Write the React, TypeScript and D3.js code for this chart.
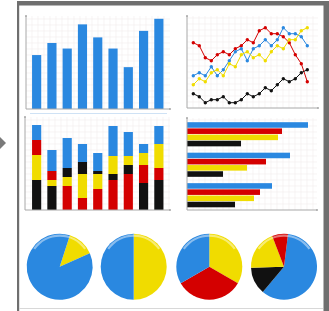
import React from 'react'
import * as d3 from 'd3'

const BLUE = '#2a88e0'
const RED = '#d40000'
const YELLOW = '#f0dc00'
const BLACK = '#111111'

// top-left bars
const barValues = [58, 71, 65, 91, 77, 65, 45, 84, 97]

// top-right lines, 20 points each
const redLine = [22, 21, 17, 16, 18, 19, 18, 20, 21, 23, 22, 26, 27, 25, 25, 24, 22, 18, 15, 9]
const blueLine = [11, 12, 11, 14, 11, 13, 16, 19, 20, 16, 20, 21, 23, 21, 23, 27, 25, 25, 24, 21]
const yellowLine = [8, 10, 9, 12, 13, 11, 15, 14, 18, 19, 17, 18, 16, 19, 21, 20, 23, 23, 26, 27]
const blackLine = [5, 4, 2, 3, 3, 4, 2, 2, 3, 5, 4, 5, 7, 6, 8, 10, 9, 10, 12, 13]

// bottom-left stacked bars
const stackBlack = [30, 24, 9, 12, 3, 6, 9, 27, 30]
const stackRed = [15, 9, 24, 12, 21, 30, 36, 18, 12]
const stackYellow = [25, 6, 9, 24, 15, 18, 9, 12, 24]
const stackBlue = [15, 21, 30, 18, 18, 30, 24, 9, 18]
const stackOrder = [
  ['black', 'yellow', 'red', 'blue'],
  ['black', 'yellow', 'red', 'blue'],
  ['red', 'yellow', 'black', 'blue'],
  ['red', 'yellow', 'black', 'blue'],
  ['red', 'yellow', 'black', 'blue'],
  ['red', 'black', 'yellow', 'blue'],
  ['red', 'black', 'yellow', 'blue'],
  ['black', 'red', 'yellow', 'blue'],
  ['black', 'red', 'yellow', 'blue'],
]

// bottom-right horizontal bars
const hGroups = ['A', 'B', 'C']
const hSeries = ['blue', 'red', 'yellow', 'black']
const hBlue = [121, 103, 85]
const hRed = [95, 79, 73]
const hYellow = [91, 60, 67]
const hBlack = [54, 36, 48]

// pies (degrees)
const pie1 = [48, 312]
const pie2 = [180, 180]
const pie3 = [120, 120, 120]
const pie4 = [213, 48, 71, 28]

const colorOf: Record<string, string> = { blue: BLUE, red: RED, yellow: YELLOW, black: BLACK }

const Grid = ({ x0, x1, y0, y1 }: { x0: number, x1: number, y0: number, y1: number }) => {
  const xs = d3.range(x0 + 6, x1, 6)
  const ys = d3.range(y1 - 6, y0, -6)
  return (
    <g stroke="#f1eded" strokeWidth={0.6}>
      {xs.map(x => <line key={'x' + x} x1={x} x2={x} y1={y0} y2={y1} />)}
      {ys.map(y => <line key={'y' + y} x1={x0} x2={x1} y1={y} y2={y} />)}
    </g>
  )
}

const Axes = ({ x0, x1, y0, y1 }: { x0: number, x1: number, y0: number, y1: number }) => (
  <g stroke="#a8a8a8" strokeWidth={1}>
    <line x1={x0} x2={x0} y1={y0} y2={y1} />
    <line x1={x0} x2={x1} y1={y1} y2={y1} />
    <circle cx={x0} cy={y0} r={1} fill="#a8a8a8" stroke="none" />
    <circle cx={x1} cy={y1} r={1} fill="#a8a8a8" stroke="none" />
  </g>
)

const App = () => {
  const W = 329, H = 311

  // bar chart
  const xBar = d3.scaleBand<number>().domain(d3.range(9)).range([29, 166.5]).paddingInner(0.4).paddingOuter(0.2)
  const yBar = d3.scaleLinear().domain([0, 100]).range([109, 16])

  // line chart
  const xLine = d3.scalePoint<number>().domain(d3.range(20)).range([193.3, 307.3])
  const yLine = d3.scaleLinear().domain([0, 30]).range([108.7, 18.7])
  const line = d3.line<number>().x((d, i) => xLine(i)!).y(d => yLine(d))
  const lines = [
    { v: redLine, c: RED },
    { v: blueLine, c: BLUE },
    { v: yellowLine, c: YELLOW },
    { v: blackLine, c: BLACK },
  ]

  // stacked
  const yStack = d3.scaleLinear().domain([0, 93]).range([210, 117])
  const stackVals: Record<string, number[]> = { black: stackBlack, red: stackRed, yellow: stackYellow, blue: stackBlue }

  // horizontal
  const yGroup = d3.scaleBand<string>().domain(hGroups).range([122.2, 207.3]).paddingInner(0.208)
  const ySer = d3.scaleBand<string>().domain(hSeries).range([0, yGroup.bandwidth()]).paddingInner(0.1)
  const xH = d3.scaleLinear().domain([0, 130]).range([187, 317])
  const hVals: Record<string, number[]> = { blue: hBlue, red: hRed, yellow: hYellow, black: hBlack }

  // pies
  const deg = Math.PI / 180
  const pies = [
    { v: pie1, c: [YELLOW, BLUE], start: 18, cx: 59.7 },
    { v: pie2, c: [YELLOW, BLUE], start: 0, cx: 133.7 },
    { v: pie3, c: [YELLOW, RED, BLUE], start: 0, cx: 209.3 },
    { v: pie4, c: [BLUE, BLACK, YELLOW, RED], start: 7, cx: 284 },
  ]
  const pieCy = 266.7, R = 33
  const arc = d3.arc<d3.PieArcDatum<number>>().innerRadius(0).outerRadius(R)
  const gloss = d3.arc()({ innerRadius: R - 3, outerRadius: R - 0.8, startAngle: -55 * deg, endAngle: 55 * deg }) as string

  return (
    <svg width={W} height={H} style={{ position: 'absolute', left: 0, top: 0, background: '#fff' }}>
      <rect width={W} height={H} fill="#fff" />
      {/* frame */}
      <rect x={17} y={1} width={312} height={4.5} fill="#6f6f6f" />
      <rect x={17} y={1} width={2.2} height={H} fill="#6f6f6f" />
      <rect x={323.5} y={1} width={5.5} height={H} fill="#6f6f6f" />
      <line x1={19} x2={323} y1={308.5} y2={308.5} stroke="#d8d8d8" />
      <polygon points="0,137 6,143 0,149" fill="#7a7a7a" />

      {/* bar chart */}
      <Grid x0={26} x1={170} y0={16} y1={109} />
      {barValues.map((v, i) => (
        <rect key={i} x={xBar(i)} y={yBar(v)} width={xBar.bandwidth()} height={yBar(0) - yBar(v)} fill={BLUE} />
      ))}
      <Axes x0={26} x1={170} y0={16} y1={109} />

      {/* line chart */}
      <Grid x0={187} x1={318} y0={16} y1={108} />
      <Axes x0={187} x1={318} y0={16} y1={108} />
      {lines.map((s, k) => (
        <g key={k}>
          <path d={line(s.v) || ''} fill="none" stroke={s.c} strokeWidth={1} />
          {s.v.map((d, i) => <circle key={i} cx={xLine(i)} cy={yLine(d)} r={1.7} fill={s.c} />)}
        </g>
      ))}

      {/* stacked bars */}
      <line x1={30} x2={167} y1={113.5} y2={113.5} stroke="#cfe2f5" />
      <Grid x0={25} x1={170} y0={117} y1={210} />
      {stackOrder.map((order, i) => {
        let acc = 0
        return (
          <g key={i}>
            {order.map(key => {
              const v = stackVals[key][i]
              const y0 = acc
              acc += v
              return <rect key={key} x={xBar(i)} y={yStack(acc)} width={xBar.bandwidth()} height={yStack(y0) - yStack(acc)} fill={colorOf[key]} />
            })}
          </g>
        )
      })}
      <Axes x0={25} x1={170} y0={117} y1={210} />

      {/* horizontal bars */}
      <Grid x0={187} x1={317} y0={118} y1={210} />
      {hGroups.map((g, gi) => (
        <g key={g}>
          {hSeries.map(s => (
            <rect key={s} x={xH(0)} y={yGroup(g)! + ySer(s)!} width={xH(hVals[s][gi]) - xH(0)} height={ySer.bandwidth()} fill={colorOf[s]} />
          ))}
        </g>
      ))}
      <Axes x0={187} x1={317} y0={118} y1={210} />

      {/* pies */}
      {pies.map((p, k) => {
        const arcs = d3.pie<number>().sort(null).startAngle(p.start * deg).endAngle(p.start * deg + 2 * Math.PI)(p.v)
        return (
          <g key={k} transform={`translate(${p.cx},${pieCy})`}>
            {arcs.map((a, i) => <path key={i} d={arc(a) || ''} fill={p.c[i]} />)}
            <path d={gloss} fill="#ffffff" opacity={0.45} />
          </g>
        )
      })}
    </svg>
  )
}

export default App
